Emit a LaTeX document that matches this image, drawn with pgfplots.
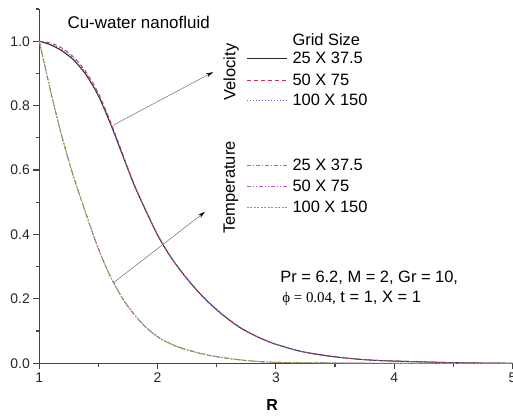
\documentclass[border=0pt]{standalone}
\usepackage{pgfplots}
\pgfplotsset{compat=1.18}
\usepackage{pgfplotstable}
\usetikzlibrary{arrows.meta}
\usepackage{fontspec}
\setmainfont{Liberation Sans}
\newfontfamily\seriffont{Liberation Serif}
\definecolor{vred}{HTML}{D03050}
\definecolor{vblue}{HTML}{6060D0}
\definecolor{tteal}{HTML}{40A090}
\definecolor{tmag}{HTML}{C050C0}
\definecolor{tolive}{HTML}{A0A030}
\definecolor{axgray}{HTML}{444444}

\pgfplotstableread{
R V
1.0 1.000
1.1 0.988
1.2 0.968
1.3 0.938
1.4 0.893
1.5 0.830
1.6 0.745
1.7 0.650
1.8 0.555
1.9 0.474
2.0 0.398
2.1 0.336
2.2 0.285
2.3 0.240
2.4 0.200
2.5 0.166
2.6 0.136
2.7 0.110
2.8 0.090
2.9 0.073
3.0 0.059
3.2 0.038
3.4 0.025
3.6 0.016
3.8 0.010
4.0 0.007
4.5 0.002
5.0 0.000
}\velA

\pgfplotstableread{
R V
1.0 1.000
1.1 0.994
1.2 0.977
1.3 0.947
1.4 0.902
1.5 0.838
1.6 0.752
1.7 0.655
1.8 0.558
1.9 0.476
2.0 0.399
2.1 0.337
2.2 0.286
2.3 0.241
2.4 0.201
2.5 0.167
2.6 0.137
2.7 0.111
2.8 0.090
2.9 0.073
3.0 0.059
3.2 0.038
3.4 0.025
3.6 0.016
3.8 0.010
4.0 0.007
4.5 0.002
5.0 0.000
}\velB

\pgfplotstableread{
R V
1.0 1.000
1.1 0.991
1.2 0.973
1.3 0.943
1.4 0.898
1.5 0.834
1.6 0.749
1.7 0.652
1.8 0.556
1.9 0.475
2.0 0.398
2.1 0.336
2.2 0.285
2.3 0.240
2.4 0.200
2.5 0.166
2.6 0.136
2.7 0.110
2.8 0.090
2.9 0.073
3.0 0.059
3.2 0.038
3.4 0.025
3.6 0.016
3.8 0.010
4.0 0.007
4.5 0.002
5.0 0.000
}\velC

\pgfplotstableread{
R T
1.00 1.000
1.05 0.918
1.10 0.838
1.15 0.762
1.20 0.692
1.25 0.627
1.30 0.567
1.35 0.512
1.40 0.458
1.45 0.405
1.50 0.355
1.55 0.310
1.60 0.270
1.70 0.203
1.80 0.152
1.90 0.112
2.00 0.082
2.10 0.062
2.20 0.047
2.40 0.027
2.60 0.015
2.80 0.007
3.00 0.003
3.50 0.001
4.00 0.000
5.00 0.000
}\tempA

\pgfplotstableread{
R T
1.00 1.000
1.05 0.919
1.10 0.839
1.15 0.763
1.20 0.693
1.25 0.628
1.30 0.568
1.35 0.513
1.40 0.459
1.45 0.406
1.50 0.356
1.55 0.311
1.60 0.271
1.70 0.204
1.80 0.153
1.90 0.113
2.00 0.083
2.10 0.063
2.20 0.048
2.40 0.028
2.60 0.015
2.80 0.007
3.00 0.003
3.50 0.001
4.00 0.000
5.00 0.000
}\tempB

\pgfplotstableread{
R T
1.00 1.000
1.05 0.918
1.10 0.838
1.15 0.762
1.20 0.692
1.25 0.627
1.30 0.567
1.35 0.512
1.40 0.458
1.45 0.405
1.50 0.355
1.55 0.310
1.60 0.270
1.70 0.203
1.80 0.152
1.90 0.112
2.00 0.082
2.10 0.062
2.20 0.047
2.40 0.027
2.60 0.015
2.80 0.007
3.00 0.003
3.50 0.001
4.00 0.000
5.00 0.000
}\tempC

\begin{document}
\begin{tikzpicture}
\begin{axis}[
  at={(39.3bp,53.7bp)}, anchor=south west,
  scale only axis, width=473.2bp, height=354.3bp,
  xmin=1, xmax=5, ymin=0, ymax=1.1,
  axis lines=left,
  axis line style={-, line width=1.3pt, color=axgray},
  xtick={1,2,3,4,5}, ytick={0,0.2,0.4,0.6,0.8,1.0},
  minor xtick={1.5,2.5,3.5,4.5},
  minor ytick={0.1,0.3,0.5,0.7,0.9,1.1},
  tick align=outside,
  major tick length=6bp, minor tick length=3.5bp,
  every tick/.style={line width=1.2pt, color=axgray},
  /pgf/number format/assume math mode=true,
  ticklabel style={font=\fontsize{14}{16}\selectfont, color=black!85},
  yticklabel style={/pgf/number format/.cd, fixed, fixed zerofill, precision=1},
  xticklabel style={/pgf/number format/.cd, fixed, precision=0},
  xlabel={\textbf{R}},
  xlabel style={at={(axis description cs:0.492,-0.118)}, anchor=center, font=\fontsize{16}{18}\selectfont},
  clip=false,
]
\addplot[black!85, line width=1pt, smooth] table[x=R, y=V] {\velA};
\addplot[vred, line width=0.9pt, smooth, dash pattern=on 4pt off 3pt] table[x=R, y=V] {\velB};
\addplot[vblue, line width=0.9pt, smooth, dash pattern=on 1pt off 2pt] table[x=R, y=V] {\velC};
\addplot[tteal, line width=0.9pt, smooth, dash pattern=on 4pt off 2pt on 1pt off 2pt] table[x=R, y=T] {\tempA};
\addplot[tmag, line width=0.9pt, smooth, dash pattern=on 4pt off 2pt on 1pt off 2pt on 1pt off 2pt] table[x=R, y=T] {\tempB};
\addplot[tolive, line width=0.9pt, smooth, dash pattern=on 2pt off 1.5pt] table[x=R, y=T] {\tempC};

\draw[gray, line width=0.6pt, -{Stealth[length=7bp, width=4bp, color=black]}] (axis cs:1.623,0.739) -- (axis cs:2.468,0.904);
\draw[gray, line width=0.6pt, -{Stealth[length=7bp, width=4bp, color=black]}] (axis cs:1.623,0.249) -- (axis cs:2.40,0.470);

\node[font=\fontsize{17}{19}\selectfont, anchor=center] at (rel axis cs:0.21,0.963) {Cu-water nanofluid};
\node[font=\fontsize{16.5}{19}\selectfont, anchor=west] at (rel axis cs:0.502,0.241) {Pr = 6.2, M = 2, Gr = 10,};
\node[font=\fontsize{16.5}{19}\selectfont, anchor=west] at (rel axis cs:0.506,0.184) {{\seriffont\fontsize{15}{17}\selectfont ϕ = 0.04,} t = 1, X = 1};
\end{axis}

% legend
\begin{scope}[font=\fontsize{16.5}{19}\selectfont]
\node[anchor=west] at (289bp,377bp) {Grid Size};
\node[rotate=90] at (231bp,345bp) {Velocity};
\node[rotate=90] at (231bp,229.5bp) {Temperature};
\draw[black!85, line width=0.9pt] (247bp,359bp) -- (287bp,359bp);
\node[anchor=west] at (289bp,359bp) {25 X 37.5};
\draw[vred, line width=0.9pt, dash pattern=on 4pt off 3pt] (247bp,337bp) -- (287bp,337bp);
\node[anchor=west] at (289bp,337bp) {50 X 75};
\draw[vblue, line width=0.9pt, dash pattern=on 1pt off 2pt] (247bp,317bp) -- (287bp,317bp);
\node[anchor=west] at (289bp,317bp) {100 X 150};
\draw[tteal, line width=0.9pt, dash pattern=on 4pt off 2pt on 1pt off 2pt] (247bp,252bp) -- (287bp,252bp);
\node[anchor=west] at (289bp,252bp) {25 X 37.5};
\draw[tmag, line width=0.9pt, dash pattern=on 4pt off 2pt on 1pt off 2pt on 1pt off 2pt] (247bp,231bp) -- (287bp,231bp);
\node[anchor=west] at (289bp,231bp) {50 X 75};
\draw[tolive, line width=0.9pt, dash pattern=on 2pt off 1.5pt] (247bp,210bp) -- (287bp,210bp);
\node[anchor=west] at (289bp,210bp) {100 X 150};
\end{scope}

\pgfresetboundingbox
\path[use as bounding box] (0,0) rectangle (513bp,417bp);
\end{tikzpicture}
\end{document}
